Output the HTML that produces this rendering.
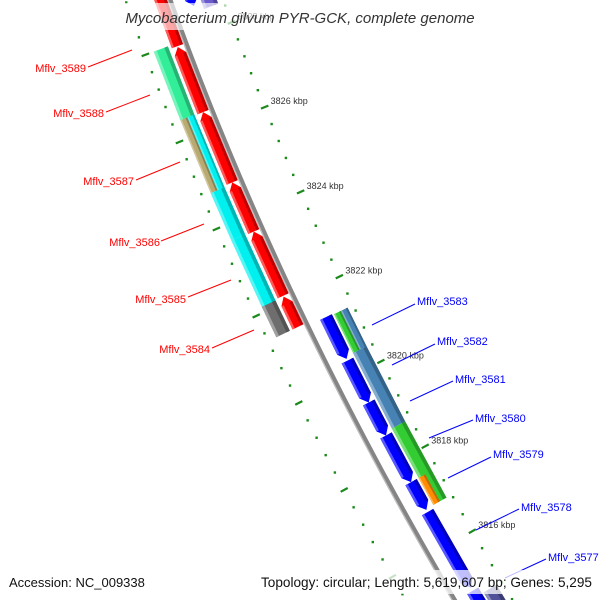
<!DOCTYPE html>
<html><head><meta charset="utf-8"><style>
html,body{margin:0;padding:0;background:#fff;width:600px;height:600px;overflow:hidden;}
svg{display:block;font-family:"Liberation Sans",sans-serif;overflow:hidden;}
</style></head><body>
<svg id="map" width="600" height="600" viewBox="0 0 600 600" xmlns="http://www.w3.org/2000/svg">
<g id="ticks"></g>
<g id="backbone"></g>
<g id="features"></g>
<g id="labels"></g>
<rect x="110" y="3" width="380" height="27" fill="#fff" opacity="0.65"/>
<text x="300" y="23" text-anchor="middle" font-size="15" font-style="italic" fill="#333">Mycobacterium gilvum PYR-GCK, complete genome</text>
<rect x="4" y="570" width="146" height="24" fill="#fff" opacity="0.75"/>
<rect x="256" y="570" width="340" height="24" fill="#fff" opacity="0.75"/>
<text x="9" y="587" font-size="13" fill="#111">Accession: NC_009338</text>
<text x="592" y="587" text-anchor="end" font-size="13.6" fill="#111">Topology: circular; Length: 5,619,607 bp; Genes: 5,295</text>
</svg>
<script>
// feature data (kbp)
const featStart = [3829.5,3827.91,3826.40,3824.77,3823.63,3822.12, 3828.00,3826.42,3826.42,3824.74,3823.65,3822.12, 3828.98,3821.35,3820.33,3819.35,3818.58,3817.49,3816.79,3814.95, 3828.84,3821.33,3821.33,3820.42,3818.65,3817.49,3814.81];
const featEnd   = [3827.93,3826.40,3824.77,3823.63,3822.14,3821.42, 3826.42,3824.74,3824.74,3823.65,3822.07,3821.42, 3828.63,3820.37,3819.35,3818.58,3817.49,3816.84,3815.02,3814.33, 3828.49,3820.42,3820.42,3818.65,3816.86,3816.86,3814.19];
const featRing  = ['red','red','red','red','red','red', 'lo','loOut','loIn','lo','lo','lo', 'bl','bl','bl','bl','bl','bl','bl','bl', 'ro','roIn','roOut','ro','ro','roIn','ro'];
const featColor = ['#ff0000','#ff0000','#ff0000','#ff0000','#ff0000','#ff0000', '#33ee99','#b8aa70','#00f0f0','#00f0f0','#00f0f0','#6e6e6e', '#0000ff','#0000ff','#0000ff','#0000ff','#0000ff','#0000ff','#0000ff','#0000ff', '#6a5acd','#33cc33','#4682b4','#4682b4','#33cc33','#ff8c00','#50509a'];
const featArrow = ['rev','rev','rev','rev','rev','rev', '','','','','','', 'fwd','fwd','fwd','fwd','fwd','fwd','fwd','fwd', '','','','','','',''];
const majorTicks = [3830,3828,3826,3824,3822,3820,3818,3816,3814];
const tickLabels = ['3830 kbp','3828 kbp','3826 kbp','3824 kbp','3822 kbp','3820 kbp','3818 kbp','3816 kbp','3814 kbp'];
const leftLabels = ['Mflv_3589','Mflv_3588','Mflv_3587','Mflv_3586','Mflv_3585','Mflv_3584'];
const rightLabels = ['Mflv_3583','Mflv_3582','Mflv_3581','Mflv_3580','Mflv_3579','Mflv_3578','Mflv_3577'];

const NS='http://www.w3.org/2000/svg';
function sOf(k){return 126+(3826-k)*43.0;}
function X(s){return 170+0.36*s+0.00019*s*s;}
function P(s,d){const xp=0.36+0.00038*s;const n=Math.hypot(xp,1);return [X(s)+d/n, s-d*xp/n];}
function pts(a){return a.map(p=>p[0].toFixed(2)+','+p[1].toFixed(2)).join(' ');}
function mk(tag,attrs,parent){const e=document.createElementNS(NS,tag);for(const k in attrs)e.setAttribute(k,attrs[k]);parent.appendChild(e);return e;}
const rings={red:[-15,-3],lo:[-33,-18],loOut:[-33,-25.5],loIn:[-25.5,-18],bl:[14,27],ro:[29,44],roIn:[29,36.5],roOut:[36.5,44]};
function shade(c,f){const n=parseInt(c.slice(1),16);let r=n>>16,g=(n>>8)&255,b=n&255;
 if(f>0){r+=(255-r)*f;g+=(255-g)*f;b+=(255-b)*f;}else{r*=1+f;g*=1+f;b*=1+f;}
 return 'rgb('+Math.round(r)+','+Math.round(g)+','+Math.round(b)+')';}

// backbone
const bb=document.getElementById('backbone');
const bpts=[];for(let s=-40;s<=640;s+=10)bpts.push(P(s,0));
const bbl=mk('polyline',{points:pts(bpts),fill:'none',stroke:'#858585','stroke-width':5},bb);


const bpts2=[];for(let s=-40;s<=640;s+=10)bpts2.push(P(s,-2));
const bbh=mk('polyline',{points:pts(bpts2),fill:'none',stroke:'#bdbdbd','stroke-width':1.3},bb);



// features
const fg=document.getElementById('features');
for(let i=0;i<featStart.length;i++){
 const s0=sOf(featStart[i]),s1=sOf(featEnd[i]);const [d1,d2]=rings[featRing[i]];const dm=(d1+d2)/2;const h=7;
 let poly;
 if(featArrow[i]==='rev') poly=[P(s0+h,d1),P(s0,dm),P(s0+h,d2),P(s1,d2),P(s1,d1)];
 else if(featArrow[i]==='fwd') poly=[P(s0,d1),P(s0,d2),P(s1-h,d2),P(s1,dm),P(s1-h,d1)];
 else poly=[P(s0,d1),P(s0,d2),P(s1,d2),P(s1,d1)];
 const g=mk('g',{},fg);
 
 
 mk('polygon',{points:pts(poly),fill:featColor[i]},g);
 const a0=featArrow[i]==='rev'?s0+h:s0, a1=featArrow[i]==='fwd'?s1-h:s1;
 const w=d2-d1;
 mk('polygon',{points:pts([P(a0,d1),P(a0,d1+w*0.2),P(a1,d1+w*0.2),P(a1,d1)]),fill:shade(featColor[i],0.35)},g);
 mk('polygon',{points:pts([P(a0,d2-w*0.25),P(a0,d2),P(a1,d2),P(a1,d2-w*0.25)]),fill:shade(featColor[i],-0.25)},g);
}

// ticks
const tg=document.getElementById('ticks');
for(let k=3830;k>=3812.9;k-=0.4){
 const kk=Math.round(k*10)/10;const s=sOf(kk);
 const isMajor=Math.abs(kk/2-Math.round(kk/2))<1e-6;
 [50,-42].forEach(d=>{
  let e;
  if(isMajor){const a=P(s,d-4),b=P(s,d+4);e=mk('line',{x1:a[0],y1:a[1],x2:b[0],y2:b[1],stroke:'#1a8a1a','stroke-width':2.2},tg);}
  else{const c=P(s,d);e=mk('rect',{x:c[0]-1.2,y:c[1]-1.2,width:2.4,height:2.4,fill:'#1a8a1a'},tg);}
  
  
 });
}
majorTicks.forEach((k,i)=>{
 const c=P(sOf(k),50);
 const t=mk('text',{x:c[0]+6,y:c[1]-3,'font-size':9,fill:'#333'},tg);
 t.textContent=tickLabels[i];
 
 
});

// gene labels
const lg=document.getElementById('labels');
const leftPos=[[86,72,88,67,132,50],[104,117,106,112,150,95],[134,185,136,180,180,162],[160,246,161,241,204,224],[186,303,188,297,231,280],[210,353,212,348,254,330]];
leftLabels.forEach((t,i)=>{const p=leftPos[i];
 const l=mk('line',{x1:p[2],y1:p[3],x2:p[4],y2:p[5],stroke:'#ff0000','stroke-width':1},lg);
 
 
 const e=mk('text',{x:p[0],y:p[1],'text-anchor':'end','font-size':11,fill:'#ff0000'},lg);e.textContent=t;
 
 
});
const rightPos=[[417,305,372,325,415,304],[437,345,392,365,435,344],[455,383,410,401,453,381],[475,422,429,438,473,420],[493,458,448,478,491,457],[521,511,476,530,519,509],[548,561,505,578,546,559]];
rightLabels.forEach((t,i)=>{const p=rightPos[i];
 const l=mk('line',{x1:p[2],y1:p[3],x2:p[4],y2:p[5],stroke:'#0000ff','stroke-width':1},lg);
 
 
 const e=mk('text',{x:p[0],y:p[1],'font-size':11,fill:'#0000ff'},lg);e.textContent=t;
 
 
});
</script>
</body></html>
